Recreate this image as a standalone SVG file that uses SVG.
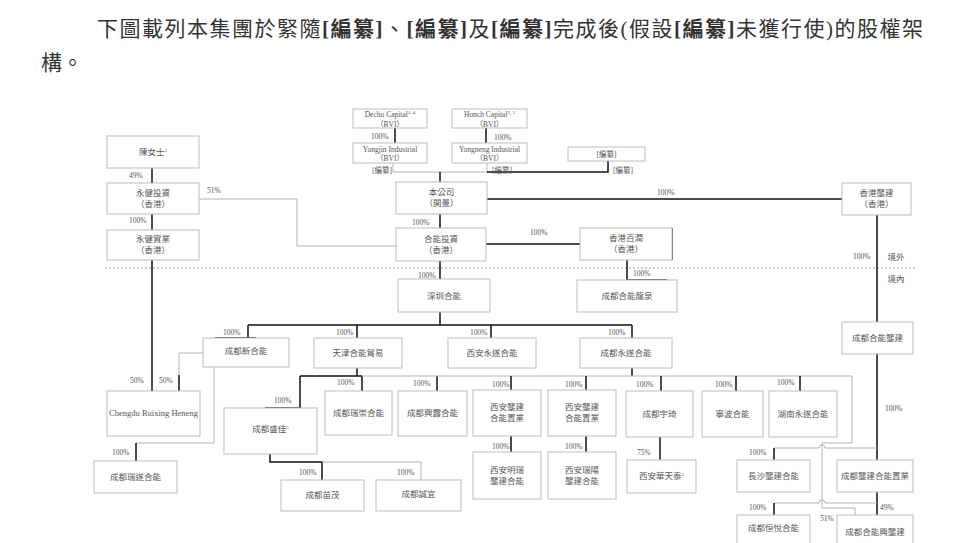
<svg xmlns="http://www.w3.org/2000/svg" width="958" height="543" viewBox="0 0 958 543">
<style>
.bg{fill:#fff}
.bx{fill:#fff;stroke:#bdbdbd;stroke-width:1}
.t{font-family:"Liberation Serif","Noto Sans CJK TC",serif;font-size:8.5px;fill:#555;text-anchor:middle}
.s{font-family:"Liberation Serif","Noto Sans CJK TC",serif;font-size:7.5px;fill:#555;text-anchor:middle}
.p{font-family:"Liberation Serif","Noto Sans CJK TC",serif;font-size:7.5px;fill:#555}
.para{font-family:"Liberation Serif","Noto Sans CJK TC",serif;font-size:21px;fill:#333}
.k{stroke:#111;stroke-width:1.5;fill:none}
.g{stroke:#b3b3b3;stroke-width:1;fill:none}
.d{stroke:#999;stroke-width:1;stroke-dasharray:2 2;fill:none}
.b{font-weight:bold}
.sup{font-size:5px}
</style>
<rect class="bg" x="0" y="0" width="958" height="543"/>
<text class="para" x="97" y="36" textLength="826" lengthAdjust="spacing">下圖載列本集團於緊隨<tspan class="b">[編纂]</tspan>、<tspan class="b">[編纂]</tspan>及<tspan class="b">[編纂]</tspan>完成後(假設<tspan class="b">[編纂]</tspan>未獲行使)的股權架</text>
<text class="para" x="41" y="70">構。</text>

<g id="connectors">
<path class="d" d="M105 268H917"/>
<path class="k" d="M152 168V183M152 214V230M152 260V391"/>
<path class="k" d="M395 128V143M486 128V143"/>
<path class="g" d="M393 163V172H487M487 163V172"/>
<path class="k" d="M487 172H608V161M440 172V182"/>
<path class="k" d="M487 199H842M877 215V322"/>
<path class="k" d="M440 214V228M486 244H580M672 228V260"/>
<path class="k" d="M627 260V280H667"/>
<path class="k" d="M440 261V279M440 312V325M248 325H632"/>
<path class="k" d="M248 325V338M357 325V338M491 325V338M632 325V338M215 338H256"/>
<path class="k" d="M357 368V376M300 376H362M300 376V408H265M362 376V391M437 376V391"/>
<path class="k" d="M632 368V376"/>
<path class="g" d="M362 376H852V443H822V508H855V515"/>
<path class="k" d="M511 376V390M586 376V390M661 376V391M736 376V391M800 376V391"/>
<path class="k" d="M511 436V452M586 436V452M660 437V460"/>
<path class="k" d="M877 354V460M877 492V515"/>
<path class="g" d="M877 448H825A3 3 0 0 0 819 448H774"/>
<path class="k" d="M774 448V460"/>
<path class="g" d="M877 503H825A3 3 0 0 0 819 503H774"/>
<path class="k" d="M774 503V515"/>
<path class="g" d="M199 199H297V246H396"/>
<path class="g" d="M203 353H179V375"/>
<path class="k" d="M179 375V391"/>
<path class="g" d="M214 367V443H136"/>
<path class="k" d="M136 443V461"/>
<path class="k" d="M270 454V462H322V480"/>
<path class="g" d="M322 462H421V480"/>

<text class="p" x="129" y="178">49%</text>
<text class="p" x="129" y="223">100%</text>
<text class="p" x="207" y="193">51%</text>
<text class="p" x="371" y="139">100%</text>
<text class="p" x="494" y="140">100%</text>
<text class="p" x="372" y="173">[編纂]</text>
<text class="p" x="492" y="173">[編纂]</text>
<text class="p" x="613" y="173">[編纂]</text>
<text class="p" x="657" y="195">100%</text>
<text class="p" x="412" y="225">100%</text>
<text class="p" x="530" y="235">100%</text>
<text class="p" x="853" y="259">100%</text>
<text class="t" x="896" y="260">境外</text>
<text class="t" x="896" y="282">境內</text>
<text class="p" x="633" y="276">100%</text>
<text class="p" x="418" y="278">100%</text>
<text class="p" x="223" y="335">100%</text>
<text class="p" x="336" y="335">100%</text>
<text class="p" x="470" y="335">100%</text>
<text class="p" x="608" y="335">100%</text>
<text class="p" x="130" y="383">50%</text>
<text class="p" x="159" y="383">50%</text>
<text class="p" x="274" y="403">100%</text>
<text class="p" x="337" y="385">100%</text>
<text class="p" x="413" y="386">100%</text>
<text class="p" x="492" y="387">100%</text>
<text class="p" x="565" y="387">100%</text>
<text class="p" x="636" y="387">100%</text>
<text class="p" x="715" y="387">100%</text>
<text class="p" x="777" y="385">100%</text>
<text class="p" x="885" y="411">100%</text>
<text class="p" x="112" y="455">100%</text>
<text class="p" x="299" y="475">100%</text>
<text class="p" x="397" y="475">100%</text>
<text class="p" x="492" y="449">100%</text>
<text class="p" x="565" y="449">100%</text>
<text class="p" x="637" y="455">75%</text>
<text class="p" x="749" y="455">100%</text>
<text class="p" x="749" y="510">100%</text>
<text class="p" x="880" y="510">49%</text>
<text class="p" x="820" y="521">51%</text>
</g>

<g id="n-chen"><rect class="bx" x="107" y="136" width="92" height="32"/><text class="t" x="153" y="155">陳女士<tspan class="sup" dy="-3">2</tspan></text></g>
<g id="n-yjinv"><rect class="bx" x="107" y="183" width="92" height="31"/><text class="t" x="153" y="195.5">永健投資</text><text class="t" x="153" y="206.5">（香港）</text></g>
<g id="n-yjind"><rect class="bx" x="107" y="230" width="92" height="30"/><text class="t" x="153" y="242">永健實業</text><text class="t" x="153" y="253">（香港）</text></g>
<g id="n-decho"><rect class="bx" x="353" y="109" width="74" height="19"/><text class="s" x="390" y="117">Decho Capital<tspan class="sup" dy="-3">3, 4</tspan></text><text class="s" x="390" y="127">（BVI）</text></g>
<g id="n-honch"><rect class="bx" x="452" y="109" width="75" height="19"/><text class="s" x="489.5" y="117">Honch Capital<tspan class="sup" dy="-3">3, 5</tspan></text><text class="s" x="489.5" y="127">（BVI）</text></g>
<g id="n-yongjin"><rect class="bx" x="353" y="143" width="74" height="20"/><text class="s" x="390" y="152">Yongjin Industrial</text><text class="s" x="390" y="161">（BVI）</text></g>
<g id="n-yongneng"><rect class="bx" x="452" y="143" width="75" height="20"/><text class="s" x="489.5" y="152">Yongneng Industrial</text><text class="s" x="489.5" y="161">（BVI）</text></g>
<g id="n-bianzuan"><rect class="bx" x="568" y="147" width="77" height="14"/><text class="s" x="606.5" y="157">[編纂]</text></g>
<g id="n-company"><rect class="bx" x="396" y="182" width="91" height="32"/><text class="t" x="441.5" y="195">本公司</text><text class="t" x="441.5" y="206">（開曼）</text></g>
<g id="n-hklj"><rect class="bx" x="842" y="183" width="69" height="32"/><text class="t" x="876.5" y="196">香港壟建</text><text class="t" x="876.5" y="207">（香港）</text></g>
<g id="n-heneng"><rect class="bx" x="396" y="228" width="90" height="33"/><text class="t" x="441" y="241.5">合能投資</text><text class="t" x="441" y="252.5">（香港）</text></g>
<g id="n-bairun"><rect class="bx" x="580" y="228" width="92" height="32"/><text class="t" x="626" y="241">香港百潤</text><text class="t" x="626" y="252">（香港）</text></g>
<g id="n-shenzhen"><rect class="bx" x="398" y="279" width="92" height="33"/><text class="t" x="444" y="298.5">深圳合能</text></g>
<g id="n-longquan"><rect class="bx" x="577" y="280" width="100" height="32"/><text class="t" x="627" y="299">成都合能龍泉</text></g>
<g id="n-cdhnlj"><rect class="bx" x="842" y="322" width="71" height="32"/><text class="t" x="877.5" y="341">成都合能壟建</text></g>
<g id="n-cdxin"><rect class="bx" x="203" y="338" width="86" height="29"/><text class="t" x="246" y="354">成都新合能</text></g>
<g id="n-tianjin"><rect class="bx" x="314" y="338" width="88" height="30"/><text class="t" x="358" y="356">天津合能貿易</text></g>
<g id="n-xianys"><rect class="bx" x="448" y="338" width="88" height="30"/><text class="t" x="492" y="356">西安永遂合能</text></g>
<g id="n-cdys"><rect class="bx" x="580" y="338" width="92" height="30"/><text class="t" x="626" y="356">成都永遂合能</text></g>
<g id="n-ruixing"><rect class="bx" x="107" y="391" width="93" height="45"/><text class="t" x="153.5" y="416">Chengdu Ruixing Heneng</text></g>
<g id="n-shengjia"><rect class="bx" x="224" y="408" width="93" height="46"/><text class="t" x="270.5" y="432">成都盛佳<tspan class="sup" dy="-3">5</tspan></text></g>
<g id="n-ruichong"><rect class="bx" x="325" y="391" width="67" height="44"/><text class="t" x="358.5" y="416">成都瑞崇合能</text></g>
<g id="n-xinglu"><rect class="bx" x="398" y="391" width="69" height="45"/><text class="t" x="432.5" y="416">成都興露合能</text></g>
<g id="n-xianlj1"><rect class="bx" x="473" y="390" width="68" height="46"/><text class="t" x="507" y="410">西安壟建</text><text class="t" x="507" y="421">合能置業</text></g>
<g id="n-xianlj2"><rect class="bx" x="548" y="390" width="68" height="46"/><text class="t" x="582" y="410">西安壟建</text><text class="t" x="582" y="421">合能置業</text></g>
<g id="n-yuqi"><rect class="bx" x="626" y="391" width="67" height="46"/><text class="t" x="659.5" y="417">成都宇琦</text></g>
<g id="n-ningbo"><rect class="bx" x="702" y="391" width="61" height="46"/><text class="t" x="732.5" y="417">寧波合能</text></g>
<g id="n-hunan"><rect class="bx" x="769" y="391" width="68" height="46"/><text class="t" x="803" y="417">湖南永遂合能</text></g>
<g id="n-ruisui"><rect class="bx" x="94" y="461" width="83" height="32"/><text class="t" x="135.5" y="480">成都瑞遂合能</text></g>
<g id="n-miaomao"><rect class="bx" x="281" y="480" width="83" height="31"/><text class="t" x="322.5" y="498">成都苗茂</text></g>
<g id="n-chengyi"><rect class="bx" x="376" y="480" width="85" height="31"/><text class="t" x="418.5" y="497">成都誠宜</text></g>
<g id="n-xianmr"><rect class="bx" x="473" y="452" width="68" height="47"/><text class="t" x="507" y="473">西安明瑞</text><text class="t" x="507" y="484">壟建合能</text></g>
<g id="n-xianry"><rect class="bx" x="548" y="452" width="68" height="47"/><text class="t" x="582" y="473">西安瑞陽</text><text class="t" x="582" y="484">壟建合能</text></g>
<g id="n-htt"><rect class="bx" x="627" y="460" width="69" height="33"/><text class="t" x="661.5" y="479">西安華天泰<tspan class="sup" dy="-3">2</tspan></text></g>
<g id="n-changsha"><rect class="bx" x="737" y="460" width="73" height="32"/><text class="t" x="773.5" y="479">長沙壟建合能</text></g>
<g id="n-cdljhy"><rect class="bx" x="837" y="460" width="76" height="32"/><text class="t" x="875" y="479">成都壟建合能置業</text></g>
<g id="n-hengyue"><rect class="bx" x="737" y="515" width="73" height="35"/><text class="t" x="773.5" y="531">成都恒悅合能</text></g>
<g id="n-xinglj"><rect class="bx" x="837" y="515" width="76" height="35"/><text class="t" x="875" y="535">成都合能興壟建</text></g>
</svg>
